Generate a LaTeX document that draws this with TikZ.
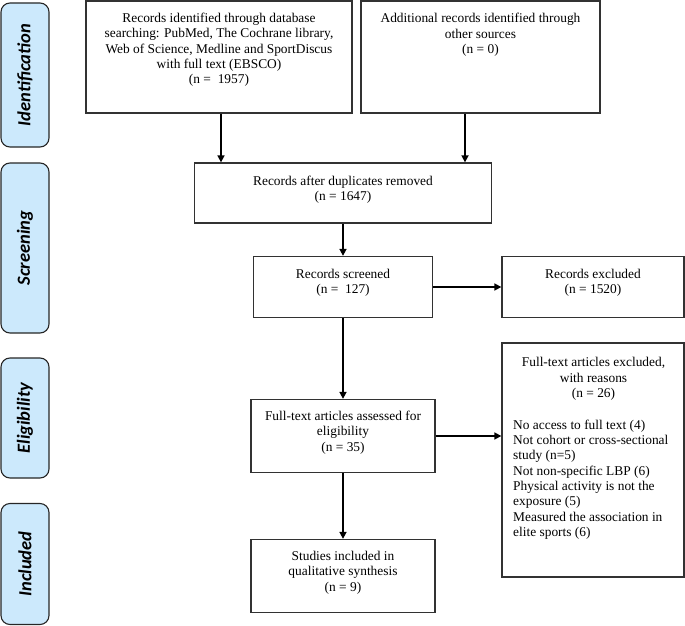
\documentclass[tikz,border=0pt]{standalone}
\usepackage{fontspec}
\setmainfont{Liberation Serif}
\newfontfamily\sidefont{Carlito}
\usetikzlibrary{arrows.meta}
\definecolor{sidefill}{RGB}{204,233,252}
\definecolor{boxline}{RGB}{50,50,50}
\tikzset{
  box/.style={draw=boxline, line width=1.3pt, inner sep=0pt, fill=white},
  txt/.style={inner sep=0pt, align=center, font=\fontsize{13.4}{15.3}\selectfont},
  txtl/.style={inner sep=0pt, align=left, font=\fontsize{13.4}{15.3}\selectfont},
  side/.style={draw=black!85, line width=1.1pt, fill=sidefill, rounded corners=9pt, inner sep=0pt},
  sidetxt/.style={rotate=90, inner sep=0pt, font=\sidefont\bfseries\itshape\fontsize{18.5}{20}\selectfont},
  arr/.style={line width=1.6pt, -{Triangle[length=7pt,width=7pt]}}
}
\begin{document}
\begin{tikzpicture}[x=1pt,y=-1pt]
\useasboundingbox (0,0) rectangle (685,626);
% side labels
\node[side, minimum width=48pt, minimum height=144pt] (s1) at (25,75) {};
\node[sidetxt] (l1) at (s1.center) {Identification};
\node[side, minimum width=48pt, minimum height=170pt] (s2) at (25,248) {};
\node[sidetxt] (l2) at (s2.center) {Screening};
\node[side, minimum width=48pt, minimum height=120pt] (s3) at (25,418) {};
\node[sidetxt] (l3) at (s3.center) {Eligibility};
\node[side, minimum width=48pt, minimum height=121pt] (s4) at (25,564) {};
\node[sidetxt] (l4) at (s4.center) {Included};
% boxes
\node[box, minimum width=266pt, minimum height=112pt] (b1) at (219,57) {};
\node[txt, yshift=7pt] (t1) at (b1.center) {Records identified through database\\searching: PubMed, The Cochrane library,\\Web of Science, Medline and SportDiscus\\with full text (EBSCO)\\(n =\ \ 1957)};
\node[box, minimum width=239pt, minimum height=112pt] (b2) at (480.5,57) {};
\node[txt, yshift=22pt] (t2) at (b2.center) {Additional records identified through\\other sources\\(n = 0)};
\node[box, minimum width=297pt, minimum height=60pt] (b3) at (343,193) {};
\node[txt, yshift=3.5pt] (t3) at (b3.center) {Records after duplicates removed\\(n = 1647)};
\node[box, minimum width=179pt, minimum height=61pt] (b4) at (343,287) {};
\node[txt, yshift=4.5pt] (t4) at (b4.center) {Records screened\\(n =\ \ 127)};
\node[box, minimum width=182pt, minimum height=61pt] (b5) at (593,287) {};
\node[txt, yshift=4.5pt] (t5) at (b5.center) {Records excluded\\(n = 1520)};
\node[box, minimum width=182pt, minimum height=234pt] (b6) at (593,460) {};
\node[txt] (t6a) at (593.5,379) {Full-text articles excluded,\\with reasons\\(n = 26)};
\node[txtl, anchor=west] (t6b) at (513,479.5) {No access to full text (4)\\Not cohort or cross-sectional\\study (n=5)\\Not non-specific LBP (6)\\Physical activity is not the\\exposure (5)\\Measured the association in\\elite sports (6)};
\node[box, minimum width=184pt, minimum height=73pt] (b7) at (343,436) {};
\node[txt, yshift=3.5pt] (t7) at (b7.center) {Full-text articles assessed for\\eligibility\\(n = 35)};
\node[box, minimum width=184pt, minimum height=73pt] (b8) at (343,576) {};
\node[txt, yshift=3.5pt] (t8) at (b8.center) {Studies included in\\qualitative synthesis\\(n = 9)};
% arrows
\draw[arr] ([xshift=2pt]b1.south) -- ([xshift=2pt]b1.south |- b3.north);
\draw[arr] ([xshift=-15.5pt]b2.south) -- ([xshift=-15.5pt]b2.south |- b3.north);
\draw[arr] (b3.south) -- (b4.north);
\draw[arr] (b4.east) -- (b5.west);
\draw[arr] (b4.south) -- (b7.north);
\draw[arr] (b7.east) -- (b7.east -| b6.west);
\draw[arr] (b7.south) -- (b8.north);
\end{tikzpicture}
\end{document}
